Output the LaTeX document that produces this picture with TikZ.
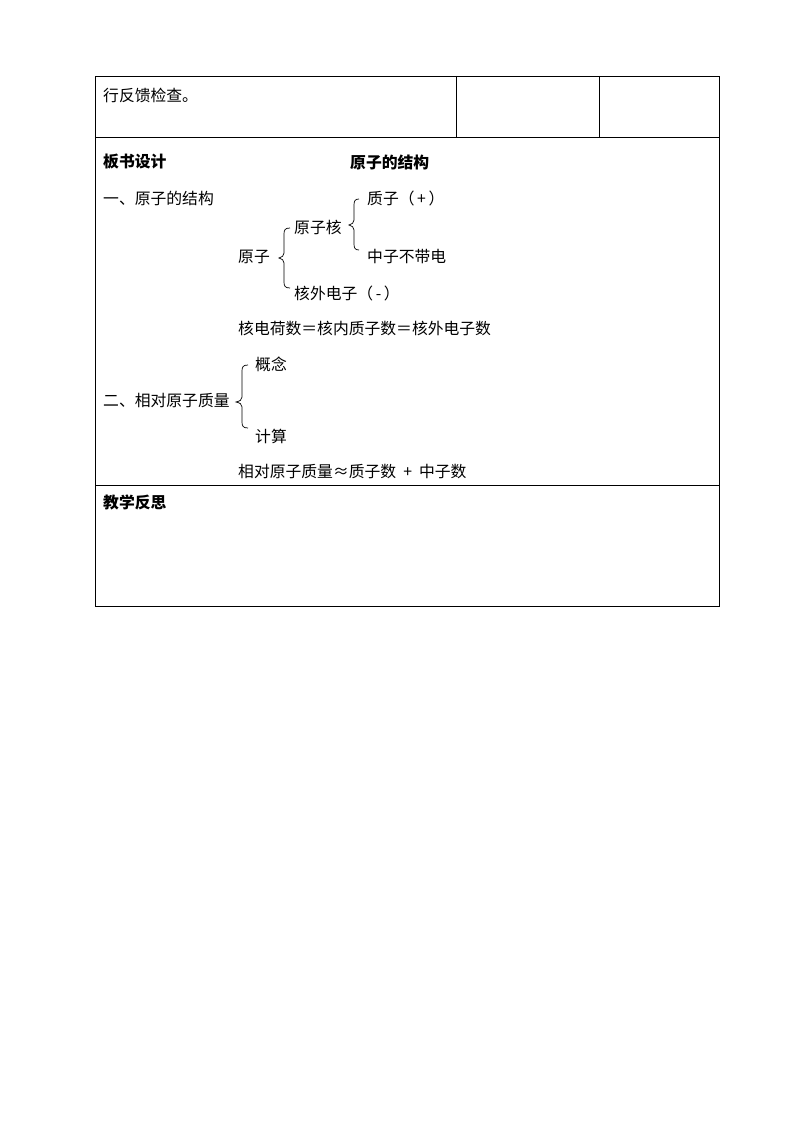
\documentclass[tikz,border=0pt]{standalone}
\usepackage{fontspec}
\setmainfont{Noto Sans CJK SC}
\begin{document}
\begin{tikzpicture}[x=1pt,y=-1pt,
  txt/.style={anchor=west,inner sep=0pt,font=\fontsize{15.8}{18}\selectfont},
  btxt/.style={txt,font=\fontsize{15.8}{18}\selectfont\bfseries},
  rule/.style={line width=0.9pt,black},
  brc/.style={line width=0.7pt,black}]
\useasboundingbox[fill=white] (0,0) rectangle (794,1123);
% table
\draw[rule] (95,76) rectangle (719,606);
\draw[rule] (95,137) -- (719,137);
\draw[rule] (95,485) -- (719,485);
\draw[rule] (456,76) -- (456,137);
\draw[rule] (599,76) -- (599,137);
% texts
\node[txt] (t0) at (103,95) {行反馈检查。};
\node[btxt] (h1) at (103,162) {板书设计};
\node[btxt] (h2) at (350,162) {原子的结构};
\node[txt] (s1) at (103,198) {一、原子的结构};
\node[txt] (zz) at (367,198) {质子（\,+\,）};
\node[txt] (yzh) at (294,227) {原子核};
\node[txt] (yz) at (238,257) {原子};
\node[txt] (zhz) at (367,256) {中子不带电};
\node[txt] (hw) at (294,293) {核外电子（\,-\,）};
\node[txt] (eq1) at (238,328) {核电荷数＝核内质子数＝核外电子数};
\node[txt] (gn) at (255,364) {概念};
\node[txt] (s2) at (103,400) {二、相对原子质量};
\node[txt] (js) at (255,436) {计算};
\node[txt] (eq2) at (238,472) {相对原子质量≈质子数\ \ +\ \ 中子数};
\node[btxt] (h3) at (103,502) {教学反思};
% braces
\draw[brc] (290,228) .. controls (285,228) and (284,230) .. (284,234)
  -- (284,253) .. controls (284,256) and (282,257) .. (279,258)
  .. controls (282,259) and (284,260) .. (284,263)
  -- (284,282) .. controls (284,286) and (285,288) .. (290,288);
\draw[brc] (359,199) .. controls (355,199) and (354,201) .. (354,205)
  -- (354,220) .. controls (354,223) and (352,224) .. (349,225)
  .. controls (352,226) and (354,227) .. (354,230)
  -- (354,244) .. controls (354,248) and (355,250) .. (359,250);
\draw[brc] (248,365) .. controls (243,365) and (242,367) .. (242,371)
  -- (242,397) .. controls (242,400) and (240,401) .. (236,402)
  .. controls (240,403) and (242,404) .. (242,407)
  -- (242,422) .. controls (242,426) and (243,428) .. (248,428);
\end{tikzpicture}
\end{document}
